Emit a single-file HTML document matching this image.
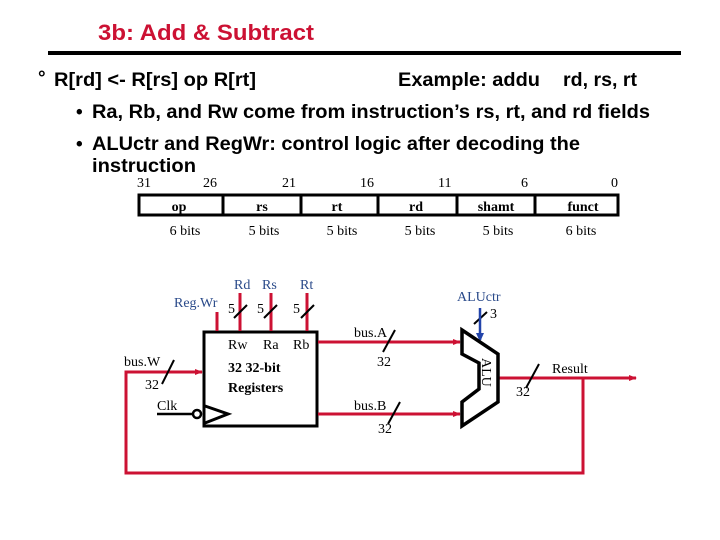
<!DOCTYPE html>
<html><head><meta charset="utf-8"><style>
html,body{margin:0;padding:0;background:#fff}
svg{display:block}
.b{font-family:"Liberation Sans",sans-serif;font-weight:bold;font-size:19px;fill:#000}
.s{font-family:"Liberation Serif",serif;font-size:14px;fill:#000}
.sb{font-family:"Liberation Serif",serif;font-size:14px;font-weight:bold;fill:#000}
.bl{font-family:"Liberation Serif",serif;font-size:14px;fill:#2a4a8a}
</style></head><body>
<svg width="720" height="540" viewBox="0 0 720 540" xmlns="http://www.w3.org/2000/svg">
<defs>
<marker id="ar" markerWidth="8" markerHeight="8" refX="7" refY="4" orient="auto" markerUnits="userSpaceOnUse"><path d="M0,1 L8,4 L0,7 z" fill="#cc1133"/></marker>
</defs>
<text x="98" y="40" font-family="Liberation Sans,sans-serif" font-weight="bold" font-size="22" fill="#cc1133" textLength="216" lengthAdjust="spacingAndGlyphs">3b: Add &amp; Subtract</text>
<rect x="48" y="51" width="633" height="4" fill="#000"/>
<text x="38" y="84" class="b" font-size="14" font-weight="normal">°</text>
<text x="54" y="86" class="b" textLength="202" lengthAdjust="spacingAndGlyphs">R[rd] &lt;- R[rs] op R[rt]</text>
<text x="398" y="86" class="b" textLength="142" lengthAdjust="spacingAndGlyphs">Example: addu</text>
<text x="563" y="86" class="b" textLength="74" lengthAdjust="spacingAndGlyphs">rd, rs, rt</text>
<text x="76" y="118" class="b">•</text>
<text x="92" y="118" class="b" textLength="558" lengthAdjust="spacingAndGlyphs">Ra, Rb, and Rw come from instruction’s rs, rt, and rd fields</text>
<text x="76" y="150" class="b">•</text>
<text x="92" y="150" class="b" textLength="488" lengthAdjust="spacingAndGlyphs">ALUctr and RegWr: control logic after decoding the</text>
<text x="92" y="172" class="b" textLength="104" lengthAdjust="spacingAndGlyphs">instruction</text>
<g class="s">
<text x="137" y="187">31</text><text x="203" y="187">26</text><text x="282" y="187">21</text><text x="360" y="187">16</text><text x="438" y="187">11</text><text x="521" y="187">6</text><text x="611" y="187">0</text>
</g>
<rect x="139" y="195" width="479" height="20" fill="none" stroke="#000" stroke-width="3"/>
<g stroke="#000" stroke-width="3">
<line x1="223" y1="195" x2="223" y2="215"/><line x1="301" y1="195" x2="301" y2="215"/><line x1="378" y1="195" x2="378" y2="215"/><line x1="457" y1="195" x2="457" y2="215"/><line x1="535" y1="195" x2="535" y2="215"/>
</g>
<g class="sb" text-anchor="middle">
<text x="179" y="211">op</text><text x="262" y="211">rs</text><text x="337" y="211">rt</text><text x="416" y="211">rd</text><text x="496" y="211">shamt</text><text x="583" y="211">funct</text>
</g>
<g class="s" text-anchor="middle">
<text x="185" y="235">6 bits</text><text x="264" y="235">5 bits</text><text x="342" y="235">5 bits</text><text x="420" y="235">5 bits</text><text x="498" y="235">5 bits</text><text x="581" y="235">6 bits</text>
</g>
<rect x="204" y="332" width="113" height="94" fill="none" stroke="#000" stroke-width="3"/>
<polyline points="205,406 228,414 205,423" fill="none" stroke="#000" stroke-width="3"/>
<circle cx="197" cy="414" r="4" fill="#fff" stroke="#000" stroke-width="2.5"/>
<line x1="157" y1="414" x2="192" y2="414" stroke="#000" stroke-width="2.5"/>
<text x="157" y="410" class="s">Clk</text>
<g class="s"><text x="228" y="349">Rw</text><text x="263" y="349">Ra</text><text x="293" y="349">Rb</text></g>
<text x="228" y="372" class="sb">32 32-bit</text>
<text x="228" y="392" class="sb">Registers</text>
<g stroke="#cc1133" stroke-width="3">
<line x1="217" y1="312" x2="217" y2="331"/>
<line x1="240" y1="293" x2="240" y2="331"/>
<line x1="271" y1="293" x2="271" y2="331"/>
<line x1="307" y1="293" x2="307" y2="331"/>
</g>
<g stroke="#000" stroke-width="2"><line x1="234" y1="318" x2="247" y2="305"/><line x1="264" y1="318" x2="277" y2="305"/><line x1="301" y1="318" x2="314" y2="305"/></g>
<g class="s"><text x="228" y="313">5</text><text x="257" y="313">5</text><text x="293" y="313">5</text></g>
<text x="174" y="307" class="bl">Reg.Wr</text>
<text x="234" y="289" class="bl">Rd</text><text x="262" y="289" class="bl">Rs</text><text x="300" y="289" class="bl">Rt</text>
<g stroke="#cc1133" stroke-width="3" fill="none">
<line x1="318" y1="342" x2="460" y2="342" marker-end="url(#ar)"/>
<line x1="318" y1="414" x2="460" y2="414" marker-end="url(#ar)"/>
<line x1="498" y1="378" x2="636" y2="378" marker-end="url(#ar)"/>
<polyline points="583,378 583,473 126,473 126,372 202,372" marker-end="url(#ar)"/>
</g>
<g stroke="#000" stroke-width="2">
<line x1="395" y1="330" x2="383" y2="352"/>
<line x1="400" y1="402" x2="388" y2="424"/>
<line x1="539" y1="364" x2="526" y2="388"/>
<line x1="174" y1="360" x2="162" y2="384"/>
<line x1="487" y1="312" x2="474" y2="324"/>
</g>
<g class="s">
<text x="354" y="337">bus.A</text><text x="377" y="366">32</text>
<text x="354" y="410">bus.B</text><text x="378" y="433">32</text>
<text x="552" y="373">Result</text><text x="516" y="396">32</text>
<text x="124" y="366">bus.W</text><text x="145" y="389">32</text>
<text x="490" y="318">3</text>
</g>
<text x="457" y="301" class="bl">ALUctr</text>
<line x1="480" y1="308" x2="480" y2="340" stroke="#2244aa" stroke-width="2.5"/>
<path d="M476,333 L480,342 L484,333 z" fill="#2244aa"/>
<polygon points="462,330 498,354 498,402 462,426 462,402 479,389 479,363 462,354" fill="#fff" stroke="#000" stroke-width="3.5"/>
<text x="0" y="0" class="s" transform="translate(482,358) rotate(90)">ALU</text>
</svg>
</body></html>
